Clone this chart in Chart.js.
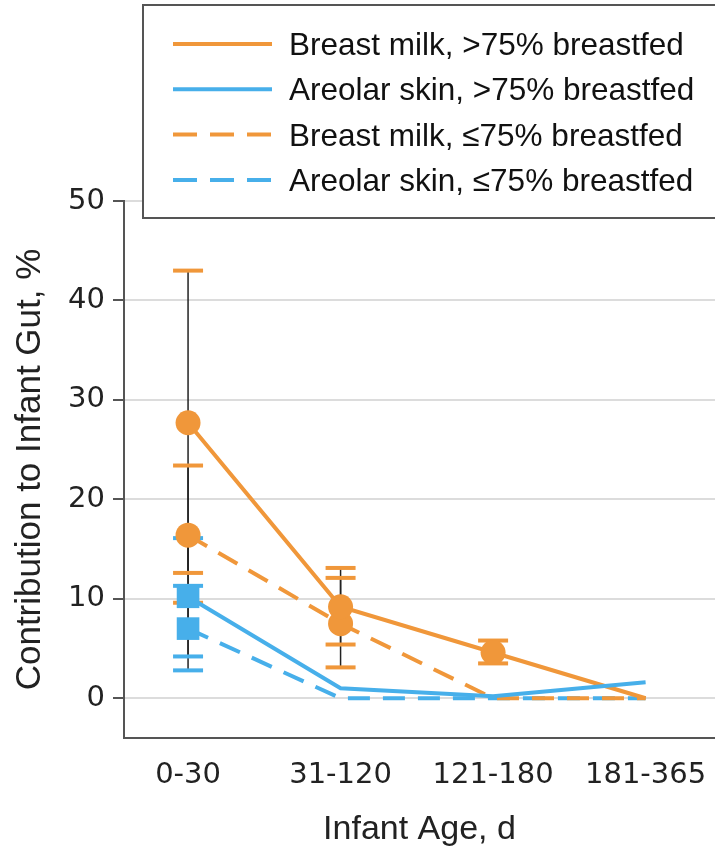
<!DOCTYPE html>
<html>
<head>
<meta charset="utf-8">
<script src="https://cdn.jsdelivr.net/npm/chart.js@4.4.1/dist/chart.umd.min.js"></script>
<style>
  html, body { margin: 0; padding: 0; background: #fff; overflow: hidden; }
  #wrap { position: relative; width: 715px; height: 850px; }
</style>
</head>
<body>
<div id="wrap"><canvas id="gutChart"></canvas></div>
<script>
const ageGroups = ["0-30", "31-120", "121-180", "181-365"];
const yTicks = [0, 10, 20, 30, 40, 50];

// mean contribution and error range per age group (null = no bar)
const milkHigh = [27.7, 9.2, 4.6, 0];
const milkHighLow = [12.6, 5.4, 3.5, null];
const milkHighHigh = [43.0, 13.1, 5.8, null];

const skinHigh = [10.2, 1.0, 0.2, 1.6];
const skinHighLow = [4.2, null, null, null];
const skinHighHigh = [16.1, null, null, null];

const milkLow = [16.4, 7.5, 0, 0];
const milkLowLow = [9.6, 3.1, null, null];
const milkLowHigh = [23.4, 12.1, null, null];

const skinLow = [7.0, 0, 0, 0];
const skinLowLow = [2.8, null, null, null];
const skinLowHigh = [11.3, null, null, null];

const orange = "#f0973a";
const blue = "#47afea";
const dash = [22, 13];

const textFont = "Liberation Sans";
const tickFont = "DejaVu Sans";

function series(label, values, lows, highs, color, dashed, style, radius, order) {
  return {
    label,
    data: values.map((v, i) => ({ x: i, y: v })),
    errLow: lows,
    errHigh: highs,
    borderColor: color,
    backgroundColor: color,
    borderWidth: 4,
    borderDash: dashed ? dash : [],
    pointStyle: style,
    pointRadius: lows.map(v => (v === null ? 0 : radius)),
    pointBackgroundColor: color,
    pointBorderWidth: 0,
    tension: 0,
    fill: false,
    order,
  };
}

// black stems with coloured caps, under the lines and markers
const errorBars = {
  id: "errorBars",
  beforeDatasetsDraw(chart) {
    const { ctx, scales: { x, y } } = chart;
    ctx.save();
    chart.data.datasets.forEach(ds => {
      ds.errLow.forEach((lo, i) => {
        if (lo === null) return;
        const px = x.getPixelForValue(i);
        ctx.strokeStyle = "#222";
        ctx.lineWidth = 1.5;
        ctx.beginPath();
        ctx.moveTo(px, y.getPixelForValue(lo));
        ctx.lineTo(px, y.getPixelForValue(ds.errHigh[i]));
        ctx.stroke();
      });
    });
    chart.data.datasets.forEach(ds => {
      ds.errLow.forEach((lo, i) => {
        if (lo === null) return;
        const px = x.getPixelForValue(i);
        ctx.strokeStyle = ds.borderColor;
        ctx.lineWidth = 4;
        [lo, ds.errHigh[i]].forEach(v => {
          const py = y.getPixelForValue(v);
          ctx.beginPath();
          ctx.moveTo(px - 15, py);
          ctx.lineTo(px + 15, py);
          ctx.stroke();
        });
      });
    });
    ctx.restore();
  },
};

// boxed legend sitting over the top right of the plot
const boxLegend = {
  id: "boxLegend",
  afterDraw(chart) {
    const ctx = chart.ctx;
    ctx.save();
    ctx.fillStyle = "#fff";
    ctx.fillRect(143, 5, 600, 213);
    ctx.strokeStyle = "#555";
    ctx.lineWidth = 2;
    ctx.strokeRect(143, 5, 600, 213);
    ctx.font = `31.5px "${textFont}"`;
    ctx.textBaseline = "alphabetic";
    ctx.textAlign = "left";
    chart.data.datasets.forEach((ds, row) => {
      const rowY = 44 + row * 45.3;
      ctx.strokeStyle = ds.borderColor;
      ctx.lineWidth = 4;
      ctx.setLineDash(ds.borderDash.length ? [24, 13] : []);
      ctx.beginPath();
      ctx.moveTo(173, rowY);
      ctx.lineTo(272, rowY);
      ctx.stroke();
      ctx.setLineDash([]);
      ctx.fillStyle = "#111";
      ctx.fillText(ds.label, 289, rowY + 11);
    });
    ctx.restore();
  },
};

new Chart(document.getElementById("gutChart"), {
  type: "line",
  data: {
    datasets: [
      series("Breast milk, >75% breastfed", milkHigh, milkHighLow, milkHighHigh, orange, false, "circle", 12.5, 2),
      series("Areolar skin, >75% breastfed", skinHigh, skinHighLow, skinHighHigh, blue, false, "rect", 16, 1),
      series("Breast milk, ≤75% breastfed", milkLow, milkLowLow, milkLowHigh, orange, true, "circle", 12.5, 3),
      series("Areolar skin, ≤75% breastfed", skinLow, skinLowLow, skinLowHigh, blue, true, "rect", 16, 4),
    ],
  },
  options: {
    responsive: true,
    maintainAspectRatio: false,
    animation: false,
    devicePixelRatio: 1,
    // no extra room for marker overflow, the plot runs to the right edge
    layout: { autoPadding: false, padding: { top: 201, left: 0, right: 0, bottom: 0 } },
    plugins: {
      legend: { display: false },
      tooltip: { enabled: false },
    },
    scales: {
      x: {
        type: "linear",
        min: -0.42,
        max: 3.455,
        afterBuildTicks: s => { s.ticks = ageGroups.map((_, i) => ({ value: i })); },
        afterFit: s => {
          s.height = 112;
          s.paddingLeft = 0;
          s.paddingRight = 0;
        },
        grid: { display: false, drawTicks: false },
        border: { color: "#555", width: 2 },
        ticks: {
          callback: v => ageGroups[v],
          font: { family: tickFont, size: 29 },
          color: "#222",
          padding: 20,
          maxRotation: 0,
        },
        title: {
          display: true,
          text: "Infant Age, d",
          font: { family: textFont, size: 34 },
          color: "#222",
          padding: { top: 0, bottom: 0 },
        },
      },
      y: {
        min: -4,
        max: 50,
        afterBuildTicks: s => { s.ticks = yTicks.map(v => ({ value: v })); },
        afterFit: s => { s.width = 124; },
        grid: { color: "#dcdcdc", lineWidth: 2, tickColor: "#555", tickLength: 11, tickWidth: 2 },
        border: { color: "#555", width: 2 },
        ticks: {
          font: { family: tickFont, size: 29 },
          color: "#222",
          padding: 8,
        },
        title: {
          display: true,
          text: "Contribution to Infant Gut, %",
          font: { family: textFont, size: 35 },
          color: "#222",
          padding: { top: 9, bottom: 0 },
        },
      },
    },
  },
  plugins: [errorBars, boxLegend],
});
</script>
</body>
</html>
